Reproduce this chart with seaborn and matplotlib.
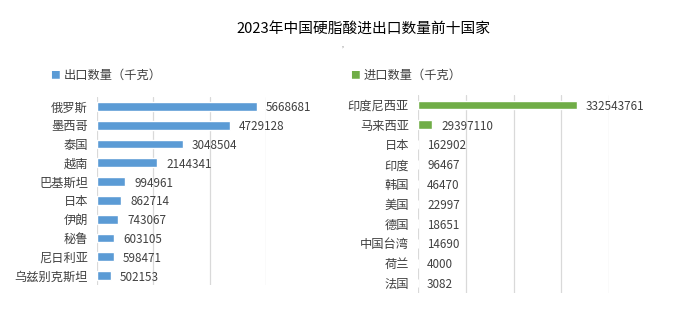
import matplotlib
matplotlib.use("Agg")
import matplotlib.pyplot as plt
import seaborn as sns
import pandas as pd

export_countries = ["俄罗斯", "墨西哥", "泰国", "越南", "巴基斯坦", "日本", "伊朗", "秘鲁", "尼日利亚", "乌兹别克斯坦"]
export_values = [5668681, 4729128, 3048504, 2144341, 994961, 862714, 743067, 603105, 598471, 502153]

import_countries = ["印度尼西亚", "马来西亚", "日本", "印度", "韩国", "美国", "德国", "中国台湾", "荷兰", "法国"]
import_values = [332543761, 29397110, 162902, 96467, 46470, 22997, 18651, 14690, 4000, 3082]

title = "2023年中国硬脂酸进出口数量前十国家"
export_label = "出口数量（千克）"
import_label = "进口数量（千克）"

sns.set_theme(style="white")
plt.rcParams['font.family'] = ['Noto Sans CJK SC', 'DejaVu Sans']

BLUE = "#5B9BD5"
GREEN = "#70AD47"
TXT = "#404040"
GRID = "#D9D9D9"

fig = plt.figure(figsize=(6.74, 3.2), dpi=100)
W, H = 674, 320

def axes_px(x0, x1, ytop, ybot):
    return fig.add_axes([x0 / W, 1 - ybot / H, (x1 - x0) / W, (ybot - ytop) / H])

ax1 = axes_px(97, 266, 97, 285)
ax2 = axes_px(418, 609, 95, 293)

df_e = pd.DataFrame({"country": export_countries, "value": export_values})
df_i = pd.DataFrame({"country": import_countries, "value": import_values})

sns.barplot(data=df_e, x="value", y="country", color=BLUE, width=0.46,
            saturation=1, ax=ax1)
sns.barplot(data=df_i, x="value", y="country", color=GREEN, width=0.44,
            saturation=1, ax=ax2)

for ax, vals, xmax, step in [(ax1, export_values, 6_000_000, 2_000_000),
                             (ax2, import_values, 400_000_000, 100_000_000)]:
    ax.set_xlim(0, xmax)
    ax.set_ylim(9.5, -0.5)
    ax.set_xticks(range(0, xmax + 1, step))
    ax.set_xticklabels([])
    ax.set_xlabel("")
    ax.set_ylabel("")
    ax.grid(axis="x", color=GRID, linewidth=0.9)
    ax.set_axisbelow(True)
    for s in ax.spines.values():
        s.set_visible(False)
    ax.tick_params(axis="y", length=0, pad=6.5, labelsize=8.8, labelcolor=TXT)
    ax.tick_params(axis="x", length=0)
    texts = ax.bar_label(ax.containers[0], labels=[str(v) for v in vals],
                         padding=6.5, fontsize=8.4, color=TXT)
    for t in texts:
        t.set_va("center_baseline")

fig.text(363 / W, 1 - 30 / H, title, ha="center", va="center", fontsize=10.6, color="#000000")
fig.text(343 / W, 1 - 46 / H, ",", ha="center", va="center", fontsize=5, color="#777777")

# legends
for xm, label, col in [(55, export_label, BLUE), (355, import_label, GREEN)]:
    fig.text(xm / W, 1 - 75 / H, "■", ha="center", va="center", fontsize=7, color=col)
    fig.text((xm + 9) / W, 1 - 75 / H, label, ha="left", va="center", fontsize=8.8, color=TXT)

fig.savefig("out.png", dpi=100)
